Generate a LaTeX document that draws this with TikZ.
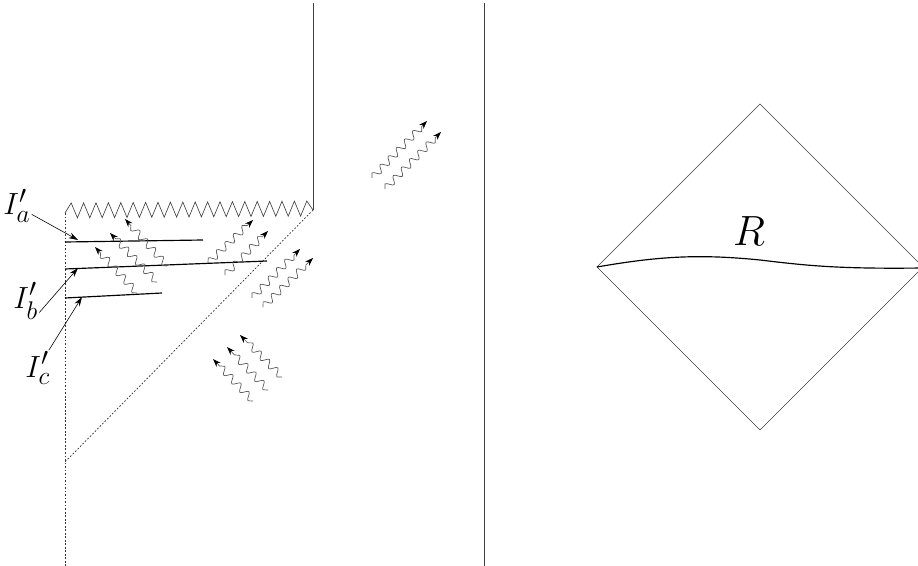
\documentclass[tikz,border=0pt]{standalone}
\usepackage{amsmath}
\usetikzlibrary{decorations.pathmorphing,arrows.meta}

\tikzset{
  linea/.style={black!75, line width=0.55pt},
  tratteggio/.style={black!80, line width=0.6pt, dash pattern=on 1.5pt off 1.5pt},
  fetta/.style={black, line width=1pt},
  onda/.style={black!65, line width=0.6pt, decorate,
    decoration={snake, amplitude=3pt, segment length=10pt, post length=5pt},
    -{Stealth[color=black, length=7pt, width=5pt]}},
  freccia/.style={black, line width=0.5pt, -{Stealth[length=8pt, width=5pt]}},
  etichetta/.style={inner sep=1pt, anchor=base west, font=\Huge}
}

\begin{document}
\begin{tikzpicture}[x=0.03cm, y=-0.03cm]
\useasboundingbox (0,0) rectangle (918,566);

% buco nero
\draw[linea] (313,3) -- (313,210);
\draw[linea] (65,213) \foreach \j in {1,...,39} {
  -- ({65+6.2*\j},{ifthenelse(isodd(\j),203,218)-0.05*\j}) } -- (313,210);
\draw[tratteggio] (65,213) -- (65,566);
\draw[tratteggio] (313,210) -- (65,462);

% fette
\draw[fetta] (65,242) -- (203,240);
\draw[fetta] (65,269) -- (267,261);
\draw[fetta] (65,298) -- (162,293);
\coordinate (pa) at (78,240);
\coordinate (pb) at (78,268);
\coordinate (pc) at (82,297);

\node[etichetta] (Ia) at (2,215) {\scalebox{1.05}{$I'_a$}};
\node[etichetta] (Ib) at (12,308) {\scalebox{1.05}{$I'_b$}};
\node[etichetta] (Ic) at (24,377) {\scalebox{1.05}{$I'_c$}};
\draw[freccia] (Ia) -- (pa);
\draw[freccia] (Ib.-40) -- (pb);
\draw[freccia] (Ic) -- (pc);

% radiazione di Hawking
\foreach \xa/\ya/\xb/\yb in {167/266/125/219, 157/282/110/233, 137/293/95/247,
  208/263/253/220, 225/275/268/231, 252/298/300/249, 263/307/313/258,
  282/377/240/335, 268/390/227/347, 253/401/213/359,
  372/178/427/121, 385/189/441/132}
  \draw[onda] (\xa,\ya) -- (\xb,\yb);

% separatore
\draw[linea] (484,3) -- (484,566);

% diagramma di Penrose
\draw[linea] (597,267) -- (760,104) -- (923,267) -- (760,430) -- cycle;
\draw[fetta] (597,267) .. controls (660,256) and (700,254) .. (760,260)
  .. controls (810,266) and (840,269) .. (923,268);
\node[font=\Huge, inner sep=0pt] (R) at (749,231) {\scalebox{1.45}{$R$}};

\end{tikzpicture}
\end{document}
